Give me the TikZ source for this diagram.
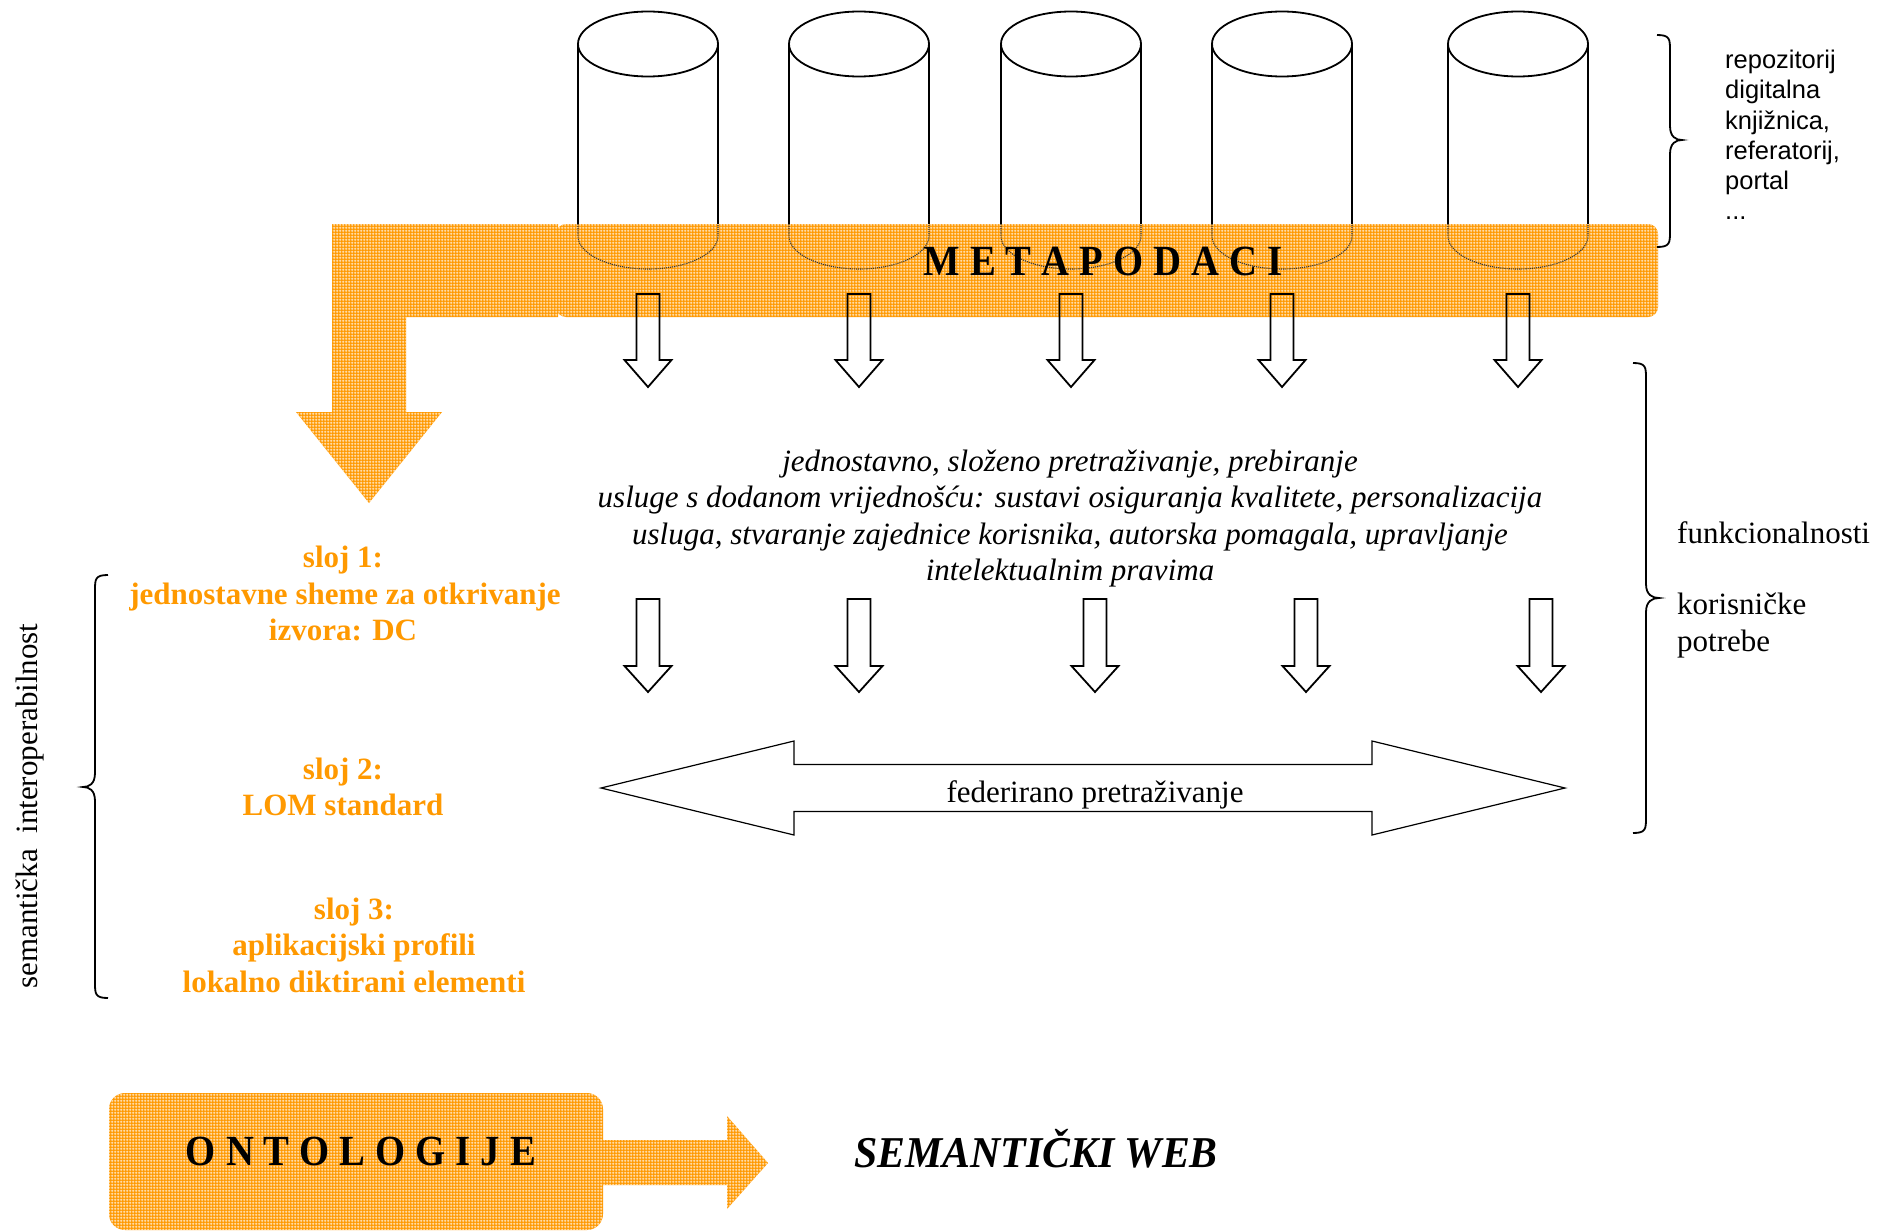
\documentclass[tikz,border=0pt]{standalone}
\usepackage{fontspec}
\usepackage{graphicx}
\setmainfont{Liberation Serif}
\newfontfamily\listfont{Liberation Sans}
\usetikzlibrary{patterns.meta}

\definecolor{metaorange}{RGB}{255,153,0}
\definecolor{layerorange}{RGB}{255,153,0}

% fine white mesh laid over the orange fills
\tikzdeclarepattern{
  name=whitemesh, type=uncolored,
  bounding box={(0pt,0pt) and (3pt,3pt)},
  tile size={(3pt,3pt)},
  code={
    \pgfsetlinewidth{0.6pt}
    \pgfpathmoveto{\pgfpoint{0pt}{1.5pt}}\pgfpathlineto{\pgfpoint{3pt}{1.5pt}}
    \pgfpathmoveto{\pgfpoint{1.5pt}{0pt}}\pgfpathlineto{\pgfpoint{1.5pt}{3pt}}
    \pgfusepath{stroke}
  }
}

\tikzset{
  metafill/.style={fill=metaorange, postaction={pattern=whitemesh, pattern color=white}},
  cylline/.style={draw=black, line width=1.8pt},
  hiddenline/.style={draw=black!80, line width=1.1pt, densely dotted},
  blockarrow/.style={draw=black, line width=1.8pt, line join=miter},
  thinarrow/.style={draw=black, line width=1.2pt, line join=miter},
  bracestroke/.style={draw=black, line width=1.8pt},
  body/.style={inner sep=0pt, anchor=base, font=\fontsize{31}{36}\selectfont},
  para/.style={inner sep=0pt, anchor=base, font=\fontsize{31}{36}\selectfont\itshape},
  layer/.style={inner sep=0pt, anchor=base, text=layerorange, font=\fontsize{31}{36}\selectfont\bfseries},
  sidelist/.style={inner sep=0pt, anchor=base west, font=\listfont\fontsize{25.5}{30}\selectfont},
  sidenote/.style={inner sep=0pt, anchor=base west, font=\fontsize{31}{36}\selectfont},
  banner/.style={inner sep=0pt, anchor=base, font=\fontsize{43}{48}\selectfont\bfseries},
}

% slightly condensed capital with the wide tracking of the banners
\newcommand\narrowcap[1]{\scalebox{0.9}[1]{#1}}
\newcommand\trackgap{\hspace{10pt}}

% outlined block arrow pointing down: centre x, top y, head y, tip y
\newcommand\dnarrow[4]{%
  \draw[blockarrow] ({#1-11.5},#2) -- ({#1+11.5},#2) -- ({#1+11.5},#3) -- ({#1+23.5},#3)
    -- (#1,#4) -- ({#1-23.5},#3) -- ({#1-11.5},#3) -- cycle;}

% curly brace: x of ends, x of spine, x of tip, top y, middle y, bottom y
\newcommand\curlybrace[6]{%
  \draw[bracestroke] (#1,#4) .. controls (#2,#4) and (#2,{#4+4}) .. (#2,{#4+16})
    -- (#2,{#5-14}) .. controls (#2,{#5-3}) and ({(#2+#3)/2},#5) .. (#3,#5)
    .. controls ({(#2+#3)/2},#5) and (#2,{#5+3}) .. (#2,{#5+14})
    -- (#2,{#6-16}) .. controls (#2,{#6-4}) and (#2,#6) .. (#1,#6);}

\begin{document}
\begin{tikzpicture}[x=1pt, y=-1pt]
\useasboundingbox[fill=white] (0,0) rectangle (1895,1231);

% ---- data stores ----
\foreach \cx in {648,859,1071,1282,1518} {
  \draw[cylline] ({\cx-70},44) -- ({\cx-70},224);
  \draw[cylline] ({\cx+70},44) -- ({\cx+70},224);
  \draw[cylline] (\cx,44) ellipse [x radius=70, y radius=32.5];
}

% ---- bent arrow from the metadata band down to the layers ----
\fill[metafill] (332,224) -- (558,224) -- (558,317) -- (406,317) -- (406,412)
  -- (442,412) -- (369,503) -- (296,412) -- (332,412) -- cycle;

% ---- metadata band ----
\fill[metafill, rounded corners=10pt] (556,224) rectangle (1658,317);

% lower parts of the stores, seen through the band
\foreach \cx in {648,859,1071,1282,1518} {
  \draw[hiddenline] ({\cx-70},224) -- ({\cx-70},236)
    .. controls ({\cx-70},254) and ({\cx-38.7},269) .. (\cx,269)
    .. controls ({\cx+38.7},269) and ({\cx+70},254) .. ({\cx+70},236) -- ({\cx+70},224);
}

\node[banner] (meta) at (1103,275)
  {\narrowcap{M}\trackgap\narrowcap{E}\trackgap\narrowcap{T}\trackgap\narrowcap{A}\trackgap\narrowcap{P}\trackgap\narrowcap{O}\trackgap\narrowcap{D}\trackgap\narrowcap{A}\trackgap\narrowcap{C}\trackgap\narrowcap{I}};

% ---- arrows from the stores ----
\foreach \cx in {648,859,1071,1282,1518} { \dnarrow{\cx}{294}{360}{387} }

% ---- services ----
\node[para] (p1) at (1070,471) {jednostavno, složeno pretraživanje, prebiranje};
\node[para] (p2) at (1070,507) {usluge s dodanom vrijednošću: sustavi osiguranja kvalitete, personalizacija};
\node[para] (p3) at (1070,544) {usluga, stvaranje zajednice korisnika, autorska pomagala, upravljanje};
\node[para] (p4) at (1070,580) {intelektualnim pravima};

\foreach \cx in {648,859,1095,1306,1541} { \dnarrow{\cx}{599}{666}{692} }

% ---- federated search ----
\draw[thinarrow] (601,788) -- (794,741) -- (794,764.5) -- (1372,764.5) -- (1372,741)
  -- (1565,788) -- (1372,835) -- (1372,811.5) -- (794,811.5) -- (794,835) -- cycle;
\node[body] (fed) at (1095,802) {federirano pretraživanje};

% ---- right-hand braces and notes ----
\curlybrace{1657}{1670}{1682}{35}{140}{247}
\node[sidelist] (r1) at (1725,69) {repozitorij};
\node[sidelist] (r2) at (1725,99) {digitalna};
\node[sidelist] (r3) at (1725,129) {knjižnica,};
\node[sidelist] (r4) at (1725,159) {referatorij,};
\node[sidelist] (r5) at (1725,189) {portal};
\node[sidelist] (r6) at (1725,219) {...};

\curlybrace{1633}{1646}{1659}{363}{598}{833}
\node[sidenote] (f1) at (1677,543) {funkcionalnosti};
\node[sidenote] (f2) at (1677,614) {korisničke};
\node[sidenote] (f3) at (1677,651) {potrebe};

% ---- interoperability layers ----
\curlybrace{108}{95}{83}{575}{787}{998}
\node[body, rotate=90] (sem) at (37,806) {semantička\ \ interoperabilnost};

\node[layer] (l1a) at (343,567) {sloj 1:};
\node[layer] (l1b) at (345,604) {jednostavne sheme za otkrivanje};
\node[layer] (l1c) at (343,640) {izvora: DC};
\node[layer] (l2a) at (343,779) {sloj 2:};
\node[layer] (l2b) at (343,815) {LOM standard};
\node[layer] (l3a) at (354,919) {sloj 3:};
\node[layer] (l3b) at (354,955) {aplikacijski profili};
\node[layer] (l3c) at (354,992) {lokalno diktirani elementi};

% ---- ontologies towards the semantic web ----
\fill[metafill] (590,1140) -- (727,1140) -- (727,1116) -- (768,1163) -- (727,1209)
  -- (727,1185) -- (590,1185) -- cycle;
\fill[metafill, rounded corners=16pt] (109,1093) rectangle (603,1230);
\node[banner] (onto) at (361,1165)
  {\narrowcap{O}\trackgap\narrowcap{N}\trackgap\narrowcap{T}\trackgap\narrowcap{O}\trackgap\narrowcap{L}\trackgap\narrowcap{O}\trackgap\narrowcap{G}\trackgap\narrowcap{I}\trackgap\narrowcap{J}\trackgap\narrowcap{E}};
\node[banner, font=\fontsize{44}{50}\selectfont\bfseries\itshape] (web) at (1036,1167)
  {\scalebox{0.95}[1]{SEMANTIČKI WEB}};
\end{tikzpicture}
\end{document}
